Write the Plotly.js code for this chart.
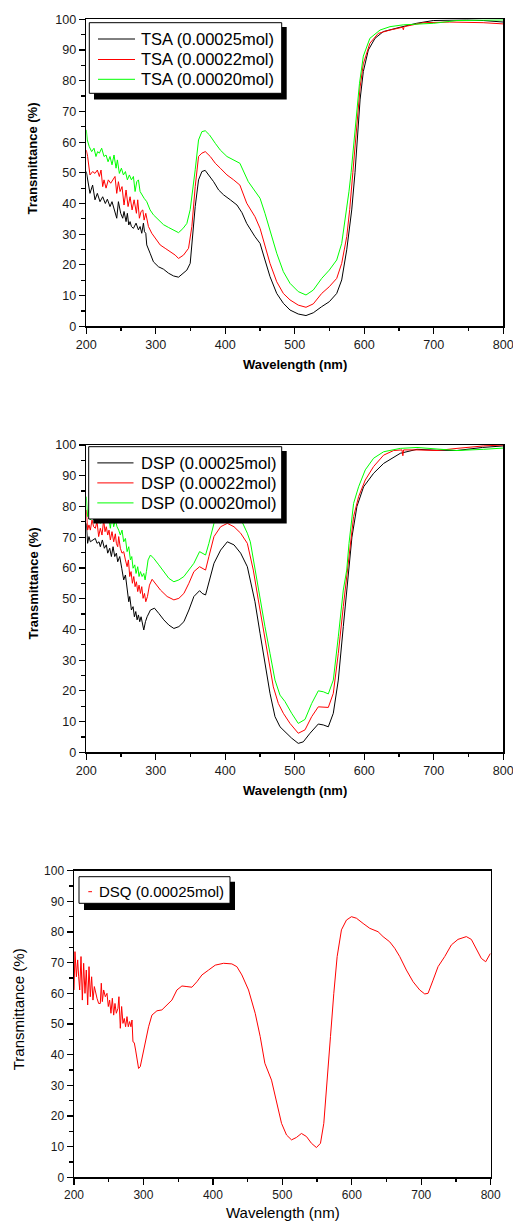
<!DOCTYPE html>
<html><head><meta charset="utf-8">
<script src="https://cdn.plot.ly/plotly-3.0.1.min.js"></script>
<style>html,body{margin:0;padding:0;background:#fff;}#chart{width:513px;height:1223px;}</style>
</head><body><div id="chart"></div>
<script>
// ---------- data ----------
const tsaNames = ['TSA (0.00025mol)', 'TSA (0.00022mol)', 'TSA (0.00020mol)'];
const dspNames = ['DSP (0.00025mol)', 'DSP (0.00022mol)', 'DSP (0.00020mol)'];
const dsqName = 'DSQ (0.00025mol)';
const seriesColors = ['#000000', '#ff0000', '#00ff00'];
const xTitle = 'Wavelength (nm)';
const yTitle = 'Transmittance (%)';

// [wavelength nm, transmittance %]
const tsa25 = [[200,50.4],[202.9,45.5],[205.3,43.3],[209.1,46],[212.5,41.2],[215.9,43.3],[219.7,40.6],[223.6,42.2],[227.4,40],[230.3,41.4],[234.1,39],[237,40.6],[240.4,37.9],[243.8,35.2],[246.2,40.6],[249.5,36.8],[252.4,35.2],[254.3,37.4],[257.2,34.1],[259.1,36.8],[261.1,33],[263,34.1],[264.9,32.5],[267.8,31.9],[271.6,33.6],[275,31.4],[277.4,32.5],[279.8,30.3],[282.2,33.6],[283.7,30.8],[285.6,30.3],[287,26.5],[291.8,23.8],[296.6,21],[303.8,19.4],[311.1,18.6],[318.3,17.3],[325.5,16.4],[332.7,16],[338.9,17.3],[344.7,18.3],[349.5,20.5],[353.4,30.3],[356.7,39],[361.5,47.7],[366.3,50.4],[371,50.8],[376,49.3],[383.2,47.1],[390.4,44.4],[397.6,42.8],[407.2,41.2],[416.8,39.5],[424,37],[430.8,33.5],[442.7,29.2],[450,27],[457.1,21.6],[464.3,16.2],[474,10.7],[483.5,7.5],[493.1,5.3],[505,4],[516.1,3.5],[526.6,4.4],[538.7,6.4],[549.6,8],[560.3,10.7],[567.5,15.1],[574.7,24.9],[581.9,37.9],[586.6,50],[590,62],[594,74],[598.6,83],[605.8,90],[615.4,93.8],[627.3,96],[651.4,97.4],[675.4,98.7],[699.3,99.6],[747.3,99.8],[771.2,99.6],[800,99.1]];
const tsa22 = [[200,57.4],[201.9,55.3],[205.3,49.3],[209.1,50.4],[212.5,49.8],[215.9,50.9],[218.8,48.8],[221.2,50.9],[223.6,45.5],[225.5,47.7],[228.4,45],[231.7,47.7],[235.1,46.6],[238,47.7],[241.3,48.8],[243.8,43.3],[246.2,47.1],[248.6,43.9],[251.4,45.5],[254.3,39.5],[257.2,44.4],[260.1,39],[263,42.2],[265.9,37.9],[268.8,41.2],[272.1,36.8],[274,41.2],[276.4,35.2],[278.8,37.4],[281.3,37.9],[283.2,34.6],[285.6,36.8],[289.4,32.5],[294.2,30.3],[299,28.7],[306.3,26.5],[313.5,25.4],[320.7,24.3],[327.9,23.2],[332.7,22.1],[339.9,23.2],[347.1,25.4],[351.9,32.5],[356.7,45.5],[361.5,55.3],[366.3,56.4],[371.2,56.9],[378.4,55.3],[385.6,53.1],[392.8,51.5],[402.4,49.3],[412,47.7],[421,46],[430.8,40.1],[442.7,35.7],[450,31.9],[457.1,25.9],[464.3,20.5],[474,14.5],[483.5,10.7],[493.1,8.6],[505,6.9],[516.1,6.2],[526.6,7.3],[538.7,10.7],[549.6,12.9],[560.3,15.6],[567.5,20.5],[574.7,29.2],[579,38],[583.5,50],[587,60],[590.5,70],[594,78],[598.6,85.5],[608,92.2],[620,95.4],[637,96.5],[655,97.4],[656.2,96.6],[657.2,97.6],[685,98.9],[723,99.1],[771,98.9],[800,98.5]];
const tsa20 = [[200,64],[201.4,60.7],[204.3,58.5],[207.7,56.9],[211.1,58],[213.9,55.3],[216.3,56.9],[218.8,56.4],[222.1,58],[225.5,55.3],[228.4,55.8],[231.3,53.6],[234.1,55.3],[237,52.6],[239.9,55.8],[242.8,51.5],[244.7,54.2],[247.6,49.8],[250.5,51.5],[253.4,49.3],[256.3,50.4],[259.1,47.7],[262,49.3],[264.9,47.7],[267.8,48.8],[270.2,43.9],[272.6,47.1],[275,47.7],[277.4,43.9],[279.8,42.8],[283.2,41.7],[287,40.6],[291.8,37.9],[296.6,36.3],[303.8,34.6],[311.1,33.1],[318.3,32.2],[325.5,31.3],[332.7,30.5],[338.9,31.8],[344.7,33.5],[349.5,38],[353,44],[356.7,51],[361.5,60.7],[366.3,63.4],[371.2,63.7],[377.4,62.3],[385.6,59.6],[392.8,57.4],[402.4,55.3],[412,54.2],[421,53.1],[433.1,47.1],[450,41.7],[457.1,36.8],[464.3,31.4],[474,23.8],[483.5,17.8],[493.1,14],[505,11.3],[516.1,10.2],[526.6,11.8],[538.7,15.6],[549.6,18.3],[560.3,21.6],[567.5,27],[574.7,37.9],[578,44],[581,50],[585,59],[589,69],[593,79],[598.6,88],[608,93.8],[622.6,96.5],[637,97.6],[656,98.2],[700,98.7],[733,99.6],[771,99.8],[800,99.8]];

const dsp25 = [[200,74.5],[201.9,68],[203.8,70.2],[205.8,68.5],[209.6,69.1],[213,69.6],[215.4,68],[218.3,68.5],[220.2,66.9],[223.1,69.1],[226,66.4],[228.8,67.5],[230.8,64.8],[233.7,66.4],[236.1,63.7],[238.5,66.9],[240.9,63.7],[243.3,64.8],[245.2,62],[248.1,63.7],[251,59.9],[253.8,56.1],[256.3,57.7],[258.7,52.8],[261.1,49],[262.5,50.7],[264.9,46.3],[267.3,47.4],[269.2,44.1],[271.2,45.8],[273.1,43.1],[275,44.7],[276.9,42.5],[278.8,44.1],[280.8,42],[282.7,39.8],[285.1,42.5],[287.5,44.1],[292.3,46.3],[298.1,46.9],[304.3,45.2],[311.5,43.1],[318.8,41.4],[326,40.3],[333.2,40.9],[340.4,42.5],[347.6,46.3],[354.8,50.7],[363,52.6],[366.8,51.7],[371.6,51.2],[376.4,55],[383.7,61.5],[393.3,65.8],[402.9,68.5],[412.5,67.5],[422.1,64.8],[431.7,60.4],[442.7,49],[450,38.7],[457.1,29],[464.3,19.2],[471.5,11.6],[478.7,8.3],[485.9,6.7],[495.5,4.6],[505,2.9],[512.2,3.4],[521.9,6.2],[533.8,9.2],[541,8.9],[548.2,8.3],[555.4,12.7],[562.6,23.5],[569.8,40.9],[577,57.1],[582.2,70],[589.4,80],[599,86.4],[613.4,90.8],[627.8,94],[651.8,97.3],[675.8,98.6],[704.6,98.3],[733,98.2],[770,99.2],[800,99.7]];
const dsp22 = [[200,78.9],[201.9,72.3],[203.8,74],[205.8,72.3],[208.2,75.6],[210.6,73.4],[213,72.9],[215.4,75.1],[217.8,70.2],[220.2,72.9],[222.6,70.7],[225,75.6],[226.9,71.8],[228.8,73.4],[230.8,70.7],[232.7,72.3],[234.6,69.1],[237,71.8],[239.4,68.5],[241.8,71.1],[243.3,68],[245.2,66.9],[246.6,70.2],[249,66.4],[251.4,64.8],[253.8,65.3],[256.3,62.6],[258.7,60.4],[260.6,62.6],[262.5,57.2],[264.4,58.8],[266.3,55],[268.3,57.2],[270.2,53.9],[272.1,55.5],[274,52.3],[275.9,54.4],[277.9,51.7],[279.8,53.9],[281.7,50.1],[283.7,51.7],[285.6,49],[288,50.7],[290.9,54.4],[294.7,56.3],[299.5,55],[306.7,52.8],[316.3,50.7],[326,49.6],[333.2,50.1],[340.4,51.7],[347.6,55],[354.8,58.8],[363,60.4],[366.8,59.9],[371.6,59.3],[376.4,63.7],[383.7,70.2],[393.3,73.4],[402.9,74.5],[412.5,73.4],[422.1,71.3],[431.7,68],[440.3,59.3],[447.5,49.6],[454.7,39.8],[461.9,30],[469.1,21.3],[476.3,15.9],[483.5,12.7],[493.1,9.4],[505,6.2],[514.7,7.3],[524.3,11.6],[533.8,14.8],[541,14.8],[548.2,14.6],[555.4,19.2],[562.6,32.2],[569.8,47.4],[574.7,57.1],[578,65],[584.6,76.7],[591.8,83.2],[601.4,88.6],[613.4,93],[627.8,96.7],[642.2,98.2],[654.2,98.4],[655.5,96.5],[656.5,98.4],[675.8,98.4],[704.6,98.2],[733.4,98.9],[771.8,99.7],[800,100]];
const dsp20 = [[200,83.2],[201.9,76.7],[203.8,78.9],[205.8,75.6],[208.2,79.4],[210.6,75.6],[213,77.8],[215.4,75.6],[217.8,78.3],[220.2,74.5],[222.6,77.2],[225,75.6],[227.4,79.4],[229.8,75.6],[232.2,76.7],[234.6,72.9],[237,77.2],[239.4,73.4],[241.8,75.6],[244.2,73.4],[246.6,72.3],[249,70.7],[251.4,72.3],[253.8,68.5],[256.3,69.6],[258.7,65.3],[261.1,66.9],[263.5,62.6],[265.4,63.7],[267.3,59.9],[269.7,61],[271.6,58.2],[274,60.4],[275.9,57.2],[277.9,58.8],[280.3,57.2],[282.7,58.2],[284.6,56.1],[286.5,58.8],[288.9,62.6],[292.3,64.2],[297.1,63.1],[304.3,61],[311.5,58.8],[318.8,56.6],[326,55.5],[333.2,56.1],[340.4,57.2],[347.6,59.3],[354.8,61.5],[363,65.3],[366.8,64.8],[371.6,64.2],[376.4,68],[383.7,74.5],[390.9,77.8],[398.1,79.5],[405.3,80],[412.5,79],[422.1,76],[431.7,71.3],[436,68.5],[442.7,59.3],[450,50.6],[457.1,40.9],[464.3,32.2],[471.5,23.5],[478.7,18.6],[485.9,16.5],[495.5,12.7],[505,9.4],[514.7,10.7],[524.3,15.9],[533.8,20],[541,19.7],[548.2,19],[555.4,23.5],[562.6,37.6],[569.8,52.8],[574.7,59.3],[578,68],[584.6,81],[591.8,86.4],[601.4,91.9],[613.4,95.7],[627.8,97.8],[651.8,98.9],[675.8,99.2],[704.6,98.6],[733.4,98.2],[771.8,98.6],[800,99]];

const dsq25 = [[200,61.1],[201.4,73.6],[203.4,65.4],[205.3,70.9],[206.7,65.4],[208.2,61.1],[210.1,72],[212,57.8],[213.9,69.8],[215.8,60],[217.7,67.6],[219.7,56.2],[221.6,68.7],[223.5,58.9],[225.4,65.4],[227.3,57.8],[229.3,62.2],[231.2,60],[233.1,58.4],[235.5,56.7],[237.9,56.7],[239.3,63.3],[240.8,57.3],[242.7,61.1],[245.1,58.9],[247.5,60],[249.4,55.7],[251.3,57.8],[253.2,53.5],[255.2,58.4],[257.1,52.9],[259,56.7],[260.9,53.5],[263.3,55.1],[264.7,58.9],[266.7,48.6],[268.6,55.7],[270.5,50.2],[272.4,51.8],[274.3,49.1],[276.3,52.4],[278.2,49.1],[280.1,50.8],[282,49.1],[283.5,51.3],[284.9,44.2],[286.8,43.9],[288.7,41.5],[290.6,38.3],[293,35.5],[295.4,36.1],[299.3,40.4],[303.1,44.8],[307.4,49.1],[312.2,52.9],[319.4,54.3],[326.6,54.6],[333.8,56.2],[341,57.8],[348.2,61.1],[355.4,62.4],[362.6,62.2],[369.8,62],[377,63.8],[384.2,66],[393.8,67.6],[403.4,69.2],[415.4,69.8],[427.3,69.6],[434.5,68.7],[441.7,66],[451.3,61.1],[460.9,53.5],[468.1,45.9],[474.8,37.2],[484.4,31.7],[491.6,24.1],[498.8,17.6],[506,13.8],[513.2,12.2],[520.3,13],[527.5,14.3],[534.7,13.3],[541.9,11.1],[549.1,9.7],[554.9,11.1],[559.7,17.6],[564.5,30.7],[569.3,45.9],[574.1,60],[578.9,72],[585.1,80.7],[592.3,83.9],[599.5,85],[606.7,84.5],[616.3,82.8],[625.9,81.2],[637.8,80.1],[645,78.5],[654.6,76.8],[661.8,74.7],[669,72],[678.6,67.6],[688.2,63.8],[697.8,61.1],[705,59.8],[709.8,60],[717,64.3],[724.2,68.7],[733.8,72],[743.4,75.8],[752.9,77.6],[764.9,78.5],[772.1,77.6],[779.3,74.7],[786.5,71.4],[792.8,70.3],[799.5,73]];

// ---------- layout helpers ----------
const W = 513, H = 1223;
const FONT = 'Liberation Sans, Arial, sans-serif';
const px = v => v / W;
const py = v => 1 - v / H;

function xAxis(dom, anchor, fs) {
  return {domain: dom, anchor: anchor, range: [200, 800], tickmode: 'linear', tick0: 200, dtick: 100,
    ticks: 'outside', ticklen: 6, tickwidth: 1.2, tickcolor: '#000', ticklabeloverflow: 'allow',
    minor: {dtick: 50, ticks: 'outside', ticklen: 3.5, tickwidth: 1.2, tickcolor: '#000', showgrid: false},
    showline: true, linecolor: '#000', linewidth: 1.5, mirror: true, showgrid: false, zeroline: false,
    tickfont: {family: FONT, size: fs, color: '#1a1a1a'}};
}
function yAxis(dom, anchor, fs) {
  return {domain: dom, anchor: anchor, range: [0, 100], tickmode: 'linear', tick0: 0, dtick: 10,
    ticks: 'outside', ticklen: 6, tickwidth: 1.2, tickcolor: '#000', ticklabeloverflow: 'allow',
    minor: {dtick: 5, ticks: 'outside', ticklen: 3.5, tickwidth: 1.2, tickcolor: '#000', showgrid: false},
    showline: true, linecolor: '#000', linewidth: 1.5, mirror: true, showgrid: false, zeroline: false,
    tickfont: {family: FONT, size: fs, color: '#1a1a1a'}};
}
function mk(series, name, color, xa, ya) {
  return {x: series.map(p => p[0]), y: series.map(p => p[1]), name: name, type: 'scatter', mode: 'lines',
    line: {color: color, width: 1}, xaxis: xa, yaxis: ya, showlegend: false, hoverinfo: 'skip'};
}

const data = [
  mk(tsa25, tsaNames[0], seriesColors[0], 'x', 'y'),
  mk(tsa22, tsaNames[1], seriesColors[1], 'x', 'y'),
  mk(tsa20, tsaNames[2], seriesColors[2], 'x', 'y'),
  mk(dsp25, dspNames[0], seriesColors[0], 'x2', 'y2'),
  mk(dsp22, dspNames[1], seriesColors[1], 'x2', 'y2'),
  mk(dsp20, dspNames[2], seriesColors[2], 'x2', 'y2'),
  mk(dsq25, dsqName, seriesColors[1], 'x3', 'y3')
];

// legend boxes (Origin style: white box, black frame, black drop shadow)
const shapes = [];
const annotations = [];
function rect(x0, y0, x1, y1, fill, lw) {
  shapes.push({type: 'rect', xref: 'paper', yref: 'paper', x0: px(x0), x1: px(x1), y0: py(y1), y1: py(y0),
    fillcolor: fill, line: {width: lw, color: '#000'}, layer: 'above'});
}
function seg(x0, x1, y, color) {
  shapes.push({type: 'line', xref: 'paper', yref: 'paper', x0: px(x0), x1: px(x1), y0: py(y), y1: py(y),
    line: {width: 1, color: color}, layer: 'above'});
}
function label(text, x, y, size, opts) {
  annotations.push(Object.assign({text: text, xref: 'paper', yref: 'paper', x: px(x), y: py(y), xanchor: 'left', yanchor: 'middle',
    showarrow: false, font: {family: FONT, size: size, color: '#000'}}, opts || {}));
}
function legendBox(box, shadowBox, rows, names, lineX, textX, size) {
  rect(shadowBox[0], shadowBox[1], shadowBox[2], shadowBox[3], '#000', 0);
  rect(box[0], box[1], box[2], box[3], '#fff', 1);
  rows.forEach((ry, i) => { seg(lineX[0], lineX[1], ry, seriesColors[i]); label(names[i], textX, ry, size); });
}
legendBox([89.3, 22.7, 281.7, 93.3], [94, 27, 286.7, 99.5], [39, 59.5, 79.3], tsaNames, [98, 135], 139.3, 16.5);
legendBox([88.7, 446.7, 281.7, 519], [93.3, 451, 286.7, 523.5], [462.9, 482.9, 502.9], dspNames, [97.3, 133.5], 139.3, 16.5);
// DSQ legend
rect(84, 881.7, 235, 910, '#000', 0);
rect(79, 876.7, 230, 903.3, '#fff', 1);
seg(88.3, 92, 891.7, seriesColors[1]);
label(dsqName, 96.5, 891.2, 15);

// axis titles
function title(text, x, y, size, bold, angle) {
  annotations.push({text: text, xref: 'paper', yref: 'paper', x: px(x), y: py(y), xanchor: 'center', yanchor: 'middle',
    showarrow: false, textangle: angle || 0, font: {family: FONT, size: size, color: '#000', weight: bold ? 'bold' : 'normal'}});
}
title(yTitle, 32.5, 159, 13, true, -90);
title(xTitle, 294.8, 364, 13, true);
title(yTitle, 32.5, 584, 13, true, -90);
title(xTitle, 294.8, 790, 13, true);
title(yTitle, 18.3, 1009, 15, false, -90);
title(xTitle, 282.5, 1212, 15, false);

const layout = {
  width: W, height: H, margin: {l: 0, r: 0, t: 0, b: 0}, paper_bgcolor: '#fff', plot_bgcolor: 'rgba(0,0,0,0)',
  font: {family: FONT}, showlegend: false,
  xaxis: xAxis([px(86.3), px(503.3)], 'y', 12.6),
  yaxis: yAxis([py(326.3), py(19.3)], 'x', 12.6),
  xaxis2: xAxis([px(86.3), px(503.3)], 'y2', 12.6),
  yaxis2: yAxis([py(752.3), py(445)], 'x2', 12.6),
  xaxis3: xAxis([px(74), px(490.7)], 'y3', 12),
  yaxis3: yAxis([py(1177.3), py(870.7)], 'x3', 12),
  shapes: shapes,
  annotations: annotations
};

Plotly.newPlot('chart', data, layout, {staticPlot: true, displayModeBar: false});
</script>
</body></html>
